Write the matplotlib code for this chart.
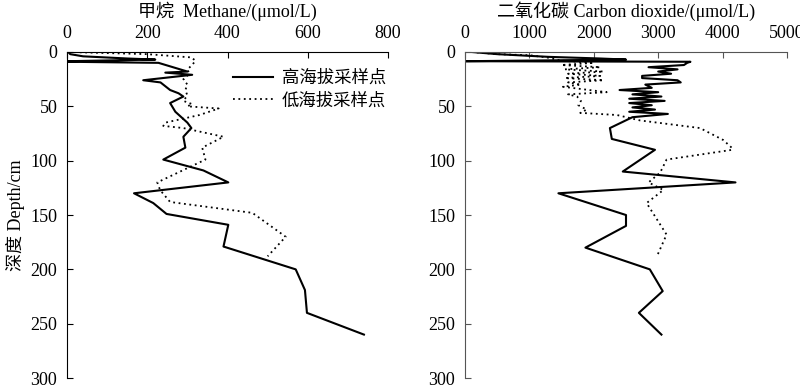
import numpy as np
import matplotlib
matplotlib.use('Agg')
import matplotlib.pyplot as plt

plt.rcParams['font.family'] = ['Liberation Serif', 'Noto Sans CJK SC']
plt.rcParams['font.size'] = 13

# --------------------------
# data
# --------------------------
ch4_high_depth = [0, 2, 4, 6, 7, 8.5, 9, 10, 18, 19, 21, 26, 28, 35, 38, 41, 47, 55, 65,
                  70, 78, 88, 99, 109, 120, 130, 139, 149, 159, 179, 200, 219, 240, 260]
ch4_high_val = [3, 8, 40, 150, 220, 0, 0, 228, 300, 245, 312, 190, 233, 257, 278, 290, 257, 270, 300,
                310, 290, 295, 240, 340, 402, 167, 215, 248, 402, 390, 570, 593, 598, 740]

ch4_low_depth = [0, 1, 2, 5, 8, 12, 16, 20, 25, 30, 35, 40, 45, 48, 50, 52, 58, 65, 68,
                 70, 78, 88, 99, 120, 127, 138, 148, 170, 188]
ch4_low_val = [5, 100, 200, 310, 320, 312, 300, 305, 290, 300, 295, 300, 290, 312, 300, 378, 330, 245, 240,
               290, 390, 337, 345, 225, 232, 257, 462, 545, 500]

co2_high_depth = [0, 2, 4.5, 6, 7, 8.5, 9, 10, 12, 14, 16, 18, 20, 22, 24, 26, 28, 30, 33, 35,
                  37, 39, 41, 43, 45, 47, 49, 51, 53, 55, 57, 60, 70, 80, 90, 110, 120, 130,
                  150, 160, 180, 200, 220, 240, 260]
co2_high_val = [100, 500, 1300, 2100, 2500, 0, 3500, 3450, 3400, 2850, 3300, 3000, 3200, 2750, 2750, 3300,
                3350, 2800, 2900, 2400, 3000, 2600, 3050, 2550, 3100, 2550, 2900, 2600, 2950, 2550, 3150,
                2600, 2250, 2280, 2950, 2450, 4200, 1450, 2500, 2500, 1870, 2870, 3070, 2700, 3050]

co2_low_depth = [0, 2, 3, 5, 8, 10, 12, 14, 16, 18, 20, 22, 24, 26, 28, 30, 32, 37, 39, 41,
                 45, 49, 53, 56, 58, 63, 70, 81, 88, 90, 99, 111, 120, 127, 139, 168, 188]
co2_low_val = [100, 500, 1000, 1270, 1500, 2000, 1500, 2100, 1550, 2150, 1600, 2100, 1550, 2150, 1600,
               1800, 1520, 2200, 1600, 1740, 1800, 1760, 1890, 1790, 2360, 2720, 3650, 4010, 4140, 4150,
               3130, 3030, 2850, 3080, 2820, 3130, 2980]

labels = ['高海拔采样点', '低海拔采样点']

# --------------------------
# figure
# --------------------------
fig = plt.figure(figsize=(8, 3.85), dpi=100)
ax1 = fig.add_axes([0.08375, 0.018, 0.40125, 0.847])
ax2 = fig.add_axes([0.58125, 0.018, 0.4025, 0.847])

ax1.plot(ch4_high_val, ch4_high_depth, color='black', lw=1.5, label=labels[0])
ax1.plot(ch4_low_val, ch4_low_depth, color='black', lw=1.3, ls=(0, (1, 2)), label=labels[1])
ax2.plot(co2_high_val, co2_high_depth, color='black', lw=1.5)
ax2.plot(co2_low_val, co2_low_depth, color='black', lw=1.3, ls=(0, (1, 2)))

for ax, xmax, step, col in [(ax1, 800, 200, 'black'), (ax2, 5000, 1000, '#555555')]:
    ax.set_xlim(0, xmax)
    ax.set_ylim(300, 0)
    ax.set_xticks(np.arange(0, xmax + 1, step))
    ax.set_yticks(np.arange(0, 301, 50))
    ax.xaxis.tick_top()
    ax.spines['right'].set_visible(False)
    ax.spines['bottom'].set_visible(False)
    ax.spines['left'].set_color(col)
    ax.spines['top'].set_color(col)
    ax.tick_params(direction='in', length=4, labelsize=13, pad=7, color=col)
    ax.patch.set_alpha(0)

ax1.set_title('甲烷  Methane/(μmol/L)', fontsize=13, pad=6)
ax2.set_title('二氧化碳 Carbon dioxide/(μmol/L)', fontsize=13, pad=6)
ax1.set_ylabel('深度 Depth/cm', fontsize=13, labelpad=4)

ax1.legend(loc='upper left', bbox_to_anchor=(0.47, 0.99), frameon=False,
           fontsize=12.5, handlelength=2.3, handletextpad=0.5, labelspacing=0.35)

fig.savefig('out.png', dpi=100)
